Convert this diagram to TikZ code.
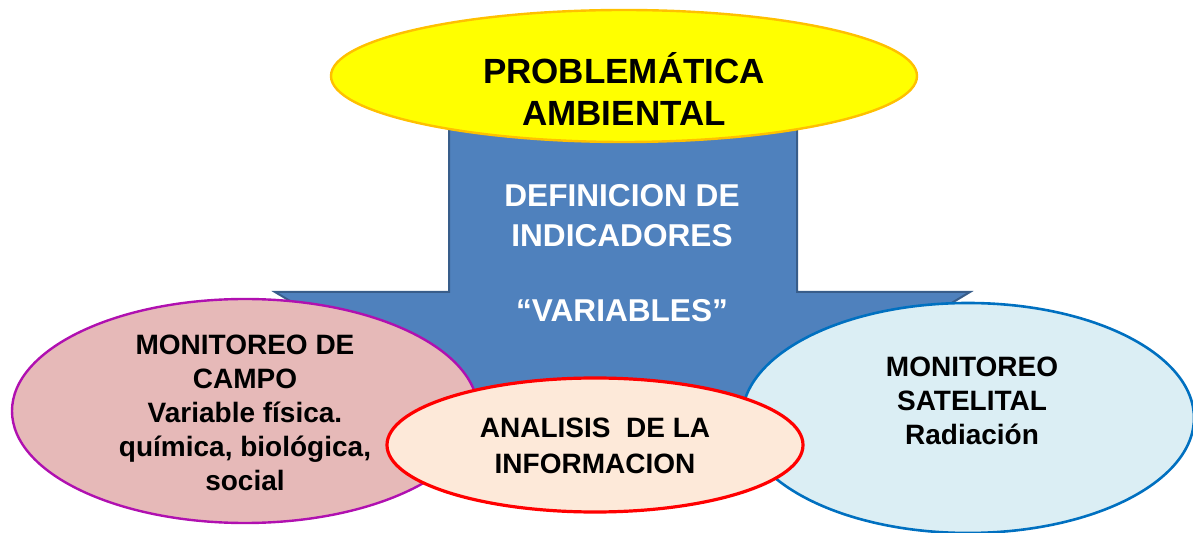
\documentclass[tikz,border=0pt]{standalone}
\usepackage{fontspec}
\setmainfont{Liberation Sans}
\usetikzlibrary{shapes.geometric}
\definecolor{arrowblue}{RGB}{79,129,189}
\definecolor{arrowedge}{RGB}{56,93,138}
\definecolor{yellowfill}{RGB}{255,255,0}
\definecolor{yellowedge}{RGB}{255,192,0}
\definecolor{pinkfill}{RGB}{230,185,184}
\definecolor{pinkedge}{RGB}{176,16,176}
\definecolor{cyanfill}{RGB}{219,238,244}
\definecolor{cyanedge}{RGB}{0,112,192}
\definecolor{peachfill}{RGB}{253,233,217}
\definecolor{rededge}{RGB}{255,0,0}
\tikzset{
  oval/.style={ellipse, inner sep=0pt, outer sep=0pt},
  blacktext/.style={align=center, font=\bfseries\fontsize{14pt}{17pt}\selectfont, text=black},
}
\begin{document}
\begin{tikzpicture}[x=0.5pt,y=-0.5pt]
\useasboundingbox (0,0) rectangle (1193,533);
\clip (0,0) rectangle (1193,533);
% big down arrow
\filldraw[fill=arrowblue, draw=arrowedge, line width=1pt, line join=miter]
  (449,120) -- (449,292) -- (275,292) -- (623,500) -- (970,292) -- (797,292) -- (797,120) -- cycle;
% top ellipse
\node[oval, fill=yellowfill, draw=yellowedge, line width=1.2pt, minimum width=293pt, minimum height=66pt] (prob) at (624,76) {};
\node[align=center, font=\bfseries\fontsize{17.5pt}{21pt}\selectfont] (probt) at (624,89) {PROBLEMÁTICA\\AMBIENTAL};
% arrow text
\node[align=center, text=white, font=\bfseries\fontsize{15.8pt}{20pt}\selectfont] (def) at (622,216) {DEFINICION DE\\INDICADORES};
\node[text=white, font=\bfseries\fontsize{15.8pt}{20pt}\selectfont] (var) at (622,311) {“VARIABLES”};
% left ellipse
\node[oval, fill=pinkfill, draw=pinkedge, line width=1.2pt, minimum width=233pt, minimum height=112pt] (campo) at (245,411) {};
\node[blacktext] (campot) at (245,413) {MONITOREO DE\\CAMPO\\Variable física.\\química, biológica,\\social};
% right ellipse
\node[oval, fill=cyanfill, draw=cyanedge, line width=1.3pt, minimum width=226pt, minimum height=115pt] (sat) at (968,418) {};
\node[blacktext] (satt) at (972,401) {MONITOREO\\SATELITAL\\Radiación};
% center ellipse
\node[oval, fill=peachfill, draw=rededge, line width=1.6pt, minimum width=208pt, minimum height=67pt] (anal) at (595,445) {};
\node[align=center, font=\bfseries\fontsize{14pt}{18pt}\selectfont] (analt) at (595,446) {ANALISIS\ \ DE LA\\INFORMACION};
\end{tikzpicture}
\end{document}
